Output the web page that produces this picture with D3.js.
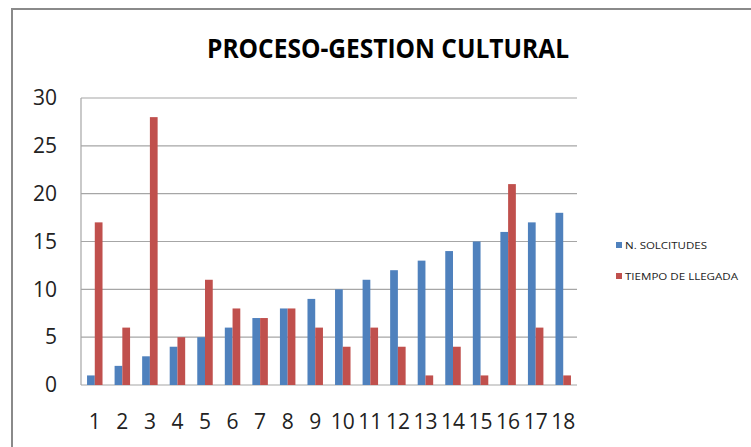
<!DOCTYPE html>
<html>
<head>
<meta charset="utf-8">
<script src="https://cdnjs.cloudflare.com/ajax/libs/d3/7.8.5/d3.min.js"></script>
<style>
  body { margin: 0; background: #fff; }
  text { font-family: "Open Sans", "Noto Sans", sans-serif; }
</style>
</head>
<body>
<div id="chart"></div>
<script>
// Data
var categories = ["1","2","3","4","5","6","7","8","9","10","11","12","13","14","15","16","17","18"];
var seriesNames = ["N. SOLCITUDES", "TIEMPO DE LLEGADA"];
var solicitudes = [1,2,3,4,5,6,7,8,9,10,11,12,13,14,15,16,17,18];
var tiempoLlegada = [17,6,28,5,11,8,7,8,6,4,6,4,1,4,1,21,6,1];
var yTicks = [0,5,10,15,20,25,30];

var colors = ["#4F81BD", "#C0504D"];

var width = 751, height = 447;
var margin = {top: 98, right: 174, bottom: 62, left: 81};
var innerW = width - margin.left - margin.right;
var innerH = height - margin.top - margin.bottom;

var svg = d3.select("#chart").append("svg")
  .attr("width", width)
  .attr("height", height);

// outer frame
svg.append("rect")
  .attr("x", 12).attr("y", 9)
  .attr("width", width + 10).attr("height", height + 10)
  .attr("fill", "none")
  .attr("stroke", "#8a8a8a")
  .attr("stroke-width", 2);

svg.append("text")
  .attr("x", 207).attr("y", 58)
  .attr("textLength", 362)
  .attr("lengthAdjust", "spacingAndGlyphs")
  .style("font-size", "27px")
  .style("font-weight", "bold")
  .attr("fill", "#000")
  .text("PROCESO-GESTION CULTURAL");

var g = svg.append("g").attr("transform", "translate(" + margin.left + "," + margin.top + ")");

var xScale = d3.scaleBand().domain(categories).range([0, innerW]).paddingInner(0).paddingOuter(0);
var inner = d3.scaleBand().domain([0, 1]).range([0, xScale.bandwidth()]).paddingInner(0).paddingOuter(0.78);
var yScale = d3.scaleLinear().domain([0, 30]).range([innerH, 0]);

// gridlines
g.selectAll(".grid").data(yTicks).enter().append("line")
  .attr("x1", 0).attr("x2", innerW)
  .attr("y1", function(d) { return yScale(d); })
  .attr("y2", function(d) { return yScale(d); })
  .attr("stroke", "#a6a6a6")
  .attr("stroke-width", 1.2);

// left axis line
g.append("line")
  .attr("x1", 0).attr("x2", 0)
  .attr("y1", 0).attr("y2", innerH)
  .attr("stroke", "#a6a6a6")
  .attr("stroke-width", 1.2);

var rows = categories.map(function(c, i) { return {cat: c, values: [solicitudes[i], tiempoLlegada[i]]}; });

var group = g.selectAll(".cat").data(rows).enter().append("g")
  .attr("transform", function(d) { return "translate(" + xScale(d.cat) + ",0)"; });

group.selectAll("rect").data(function(d) { return d.values; }).enter().append("rect")
  .attr("x", function(d, i) { return inner(i); })
  .attr("y", function(d) { return yScale(d); })
  .attr("width", inner.bandwidth())
  .attr("height", function(d) { return innerH - yScale(d); })
  .attr("fill", function(d, i) { return colors[i]; });

// y axis labels
var yAxis = d3.axisLeft(yScale).tickValues(yTicks).tickSize(0).tickPadding(24);
var ya = g.append("g").call(yAxis);
ya.select(".domain").remove();
ya.selectAll("text")
  .style("font-family", "'Open Sans', sans-serif")
  .style("font-size", "21px")
  .attr("fill", "#222");

// x axis labels
var xAxis = d3.axisBottom(xScale).tickSize(0).tickPadding(29);
var xa = g.append("g").attr("transform", "translate(0," + innerH + ")").call(xAxis);
xa.select(".domain").remove();
xa.selectAll("text")
  .style("font-family", "'Open Sans', sans-serif")
  .style("font-size", "21px")
  .attr("fill", "#222");

// legend
var legend = svg.selectAll(".legend").data(seriesNames).enter().append("g")
  .attr("transform", function(d, i) { return "translate(616," + (242 + i * 31) + ")"; });
legend.append("rect")
  .attr("width", 6).attr("height", 6)
  .attr("fill", function(d, i) { return colors[i]; });
legend.append("text")
  .attr("x", 9).attr("y", 6.5)
  .attr("textLength", function(d, i) { return i === 0 ? 82 : 113; })
  .attr("lengthAdjust", "spacingAndGlyphs")
  .style("font-size", "9px")
  .attr("fill", "#222")
  .text(function(d) { return d; });
</script>
</body>
</html>
